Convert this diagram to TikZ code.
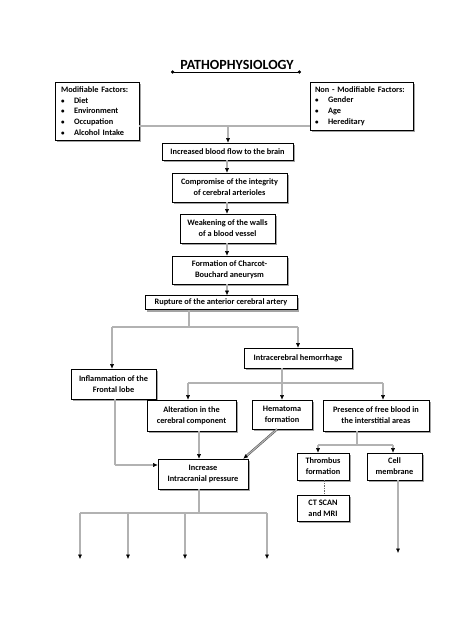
\documentclass[tikz,border=0pt]{standalone}
\usepackage{fontspec}
\setmainfont{Carlito}
\usetikzlibrary{arrows.meta,shadows,calc}
\newcommand{\bul}{\makebox[13pt][l]{\fontsize{7}{7}\selectfont\textbullet}}
\begin{document}
\begin{tikzpicture}[x=1pt,y=-1pt,
  box/.style={draw=black, line width=0.6pt, fill=white, inner sep=1pt, align=center,
    drop shadow={shadow xshift=2pt, shadow yshift=-2pt, fill=black!45, opacity=0.8},
    font=\bfseries\fontsize{8.3}{11}\selectfont},
  dline/.style={draw=black!70, double=black!30, double distance=1.2pt, line width=0.5pt},
  arr/.style={dline, -{Latex[length=4.5pt,width=4pt,black]}},
  txtlist/.style={box, align=left, anchor=center, font=\bfseries\fontsize{8.3}{10.6}\selectfont}
]
\useasboundingbox[fill=white] (0,0) rectangle (474,632);

% title
\node[font=\bfseries\fontsize{14}{16}\selectfont] (title) at (237,65) {PATHOPHYSIOLOGY};
\coordinate (tl) at (171,72);
\coordinate (tr) at (301,72);
\draw[line width=0.8pt, {Circle[length=3.2pt]}-{Circle[length=3.2pt]}] (tl) -- (tr);

% factor boxes
\node[txtlist, minimum width=84, minimum height=58, text width=72, inner xsep=6pt] (mod) at (97,111)
 {\mbox{Modifiable Factors:}\\
  \bul Diet\\
  \bul Environment\\
  \bul Occupation\\
  \bul Alcohol Intake};
\node[txtlist, minimum width=101, minimum height=48, text width=93, inner xsep=5pt] (nonmod) at (361.5,106)
 {\mbox{Non - Modifiable Factors:}\\
  \bul Gender\\
  \bul Age\\
  \bul Hereditary};

% main chain
\node[box, minimum width=131, minimum height=17] (inc) at (227.5,151.5) {Increased blood flow to the brain};
\node[box, minimum width=115, minimum height=29] (comp) at (229.5,187.5) {Compromise of the integrity\\of cerebral arterioles};
\node[box, minimum width=95, minimum height=29] (weak) at (227.5,228.5) {Weakening of the walls\\of a blood vessel};
\node[box, minimum width=115, minimum height=28] (form) at (229.5,270) {Formation of Charcot-\\Bouchard aneurysm};
\node[box, minimum width=152, minimum height=14] (rupt) at (221,302.5) {Rupture of the anterior cerebral artery};

\node[box, minimum width=108, minimum height=20] (ich) at (298,358) {Intracerebral hemorrhage};
\node[box, minimum width=85, minimum height=30] (infl) at (113.5,384) {Inflammation of the\\Frontal lobe};
\node[box, minimum width=89, minimum height=31] (alt) at (191.5,415.5) {Alteration in the\\cerebral component};
\node[box, minimum width=60, minimum height=29] (hem) at (282,414.5) {Hematoma\\formation};
\node[box, minimum width=106, minimum height=31] (pres) at (376,415.5) {Presence of free blood in\\the interstitial areas};
\node[box, minimum width=90, minimum height=30] (icp) at (203,474) {Increase\\Intracranial pressure};
\node[box, minimum width=52, minimum height=27] (thr) at (323,466.5) {Thrombus\\formation};
\node[box, minimum width=55, minimum height=27] (cell) at (394.5,466.5) {Cell\\membrane};
\node[box, minimum width=52, minimum height=26] (ct) at (323,508) {CT SCAN\\and MRI};

% junctions
\coordinate (j1) at (228,126);
\coordinate (j2) at (189,327);
\coordinate (j2l) at (112,327);
\coordinate (j2r) at (298,327);
\coordinate (j3) at (282,383);
\coordinate (j3l) at (188,383);
\coordinate (j3r) at (383,383);
\coordinate (j4) at (115,465);
\coordinate (j5) at (199,513);
\coordinate (j5a) at (80,513);
\coordinate (j5b) at (128,513);
\coordinate (j5c) at (185,513);
\coordinate (j5d) at (267,513);
\coordinate (e1) at (80,559);
\coordinate (e2) at (128,559);
\coordinate (e3) at (185,559);
\coordinate (e4) at (267,559);
\coordinate (j6) at (357,445);
\coordinate (j6l) at (318,445);
\coordinate (j6r) at (393,445);
\coordinate (e5) at (398,553);

% connectors
\draw[dline] (mod.east |- j1) -- (nonmod.west |- j1);
\draw[arr] (j1) -- (inc.north -| j1);
\draw[arr] (inc.south -| 227,0) -- (comp.north -| 227,0);
\draw[arr] (comp.south -| 227,0) -- (weak.north -| 227,0);
\draw[arr] (weak.south -| 227,0) -- (form.north -| 227,0);
\draw[arr] (form.south -| 227,0) -- (rupt.north -| 227,0);

\draw[dline] (rupt.south -| j2) -- (j2);
\draw[dline] (j2l) -- (j2r);
\draw[arr] (j2l) -- (infl.north -| j2l);
\draw[arr] (j2r) -- (ich.north -| j2r);

\draw[arr] (ich.south -| j3) -- (hem.north -| j3);
\draw[dline] (j3l) -- (j3r);
\draw[arr] (j3l) -- (alt.north -| j3l);
\draw[arr] (j3r) -- (pres.north -| j3r);

\draw[dline] (infl.south -| j4) -- (j4);
\draw[arr] (j4) -- (icp.west |- j4);
\draw[arr] (alt.south -| j5) -- (icp.north -| j5);
\draw[arr] ([xshift=-5pt]hem.south) -- ([xshift=-5pt]icp.north east);

\draw[dline] (icp.south -| j5) -- (j5);
\draw[dline] (j5a) -- (j5d);
\draw[arr] (j5a) -- (e1);
\draw[arr] (j5b) -- (e2);
\draw[arr] (j5c) -- (e3);
\draw[arr] (j5d) -- (e4);

\draw[dline] (pres.south -| j6) -- (j6);
\draw[dline] (j6l) -- (j6r);
\draw[arr] (j6l) -- (thr.north -| j6l);
\draw[arr] (j6r) -- (cell.north -| j6r);
\draw[black!60, dash pattern=on 1.5pt off 1pt, line width=0.6pt] (thr.south -| 324,0) -- (ct.north -| 324,0);
\draw[arr] (cell.south -| e5) -- (e5);
\end{tikzpicture}
\end{document}
